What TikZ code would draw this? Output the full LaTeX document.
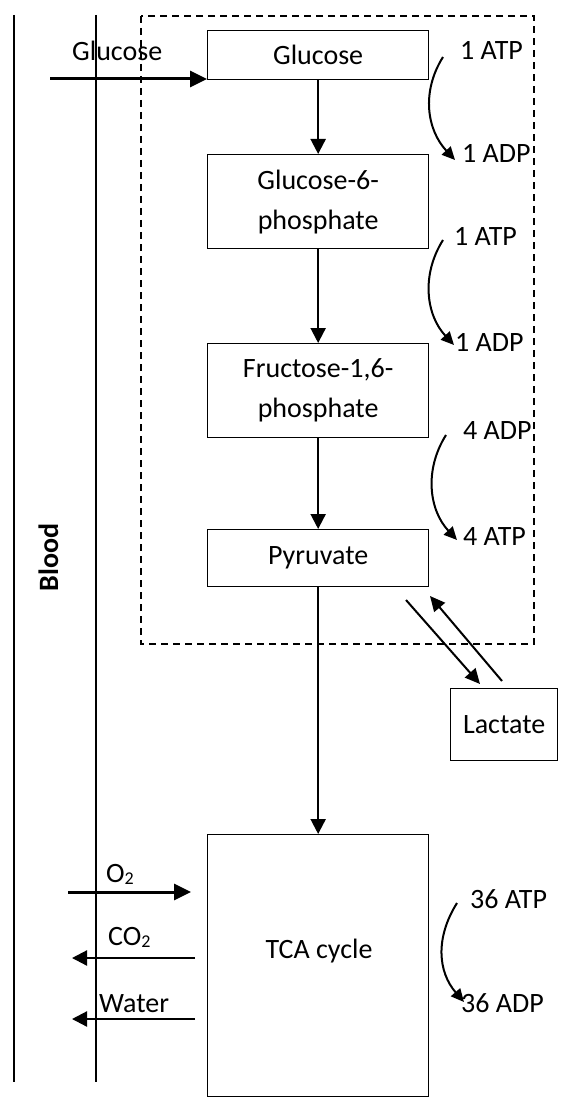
\documentclass[tikz,border=0pt]{standalone}
\usepackage{fontspec}
\setmainfont{Carlito}
\usetikzlibrary{arrows.meta,calc}
\newcommand\subtwo{\raisebox{-0.08em}{\fontsize{18}{18}\selectfont 2}}
\begin{document}
\begin{tikzpicture}[x=1pt,y=-1pt,
  font=\fontsize{28}{40}\selectfont,
  stagebox/.style={draw,line width=1.3pt,rectangle,anchor=north west,inner sep=0pt,
    minimum width=221pt,align=center},
  lbl/.style={anchor=base west,inner sep=0pt},
  arr/.style={line width=2.2pt,-{Triangle[length=15pt,width=15pt]}},
  bigarr/.style={line width=3pt,-{Triangle[length=17pt,width=16pt]}},
  curvearr/.style={line width=2pt,-{Triangle[length=13pt,width=12pt]}},
  wall/.style={line width=1.3pt}]
\useasboundingbox (0,0) rectangle (565,1099);

% membrane lines
\draw[wall] (14,15) -- (14,1082);
\draw[wall] (96,15) -- (96,1082);
\node[rotate=90,anchor=base,inner sep=0pt,font=\fontsize{28}{40}\selectfont\bfseries] (blood) at (58,557.5) {Blood};

% cytoplasm boundary
\draw[line width=1.4pt,dash pattern=on 7pt off 5pt] (141,16) rectangle (534,644);

% pathway stages
\node[stagebox,minimum height=49pt] (glc) at (207,30) {Glucose};
\node[stagebox,minimum height=94pt] (g6p) at (207,154) {Glucose-6-\\phosphate};
\node[stagebox,minimum height=94pt] (f16p) at (207,343) {Fructose-1,6-\\phosphate};
\node[stagebox,minimum height=57pt] (pyr) at (207,529) {Pyruvate};
\node[stagebox,minimum height=262pt] (tca) at (207,834) {};
\node[inner sep=0pt] (tcalbl) at (319,951) {TCA cycle};
\node[stagebox,minimum width=107pt,minimum height=72pt] (lac) at (450,688) {Lactate};

\draw[arr] (glc.south) -- (g6p.north);
\draw[arr] (g6p.south) -- (f16p.north);
\draw[arr] (f16p.south) -- (pyr.north);
\draw[arr] (pyr.south) -- (tca.north);

% glucose uptake
\node[lbl] (glclbl) at (72,61) {Glucose};
\coordinate (glcin) at (50,79);
\draw[bigarr] (glcin) -- (glcin -| glc.west);

% pyruvate <-> lactate
\coordinate (pl1) at (406,600);
\coordinate (pl2) at ($(lac.north west)+(30,-4)$);
\coordinate (lp1) at ($(lac.north west)+(52,-7)$);
\coordinate (lp2) at (430,596);
\draw[line width=2pt,-{Triangle[length=15pt,width=14pt]}] (pl1) -- (pl2);
\draw[line width=2pt,-{Triangle[length=15pt,width=14pt]}] (lp1) -- (lp2);

% energy labels
\node[lbl] (atp1) at (460,60) {1 ATP};
\node[lbl] (adp1) at (462,163) {1 ADP};
\node[lbl] (atp2) at (454,246) {1 ATP};
\node[lbl] (adp2) at (455,351) {1 ADP};
\node[lbl] (adp4) at (463,439) {4 ADP};
\node[lbl] (atp4) at (463,545) {4 ATP};
\node[lbl] (atp36) at (470,908) {36 ATP};
\node[lbl] (adp36) at (461,1012) {36 ADP};

\draw[curvearr] ($(atp1.base west)+(-17,-3)$) .. controls +(-22,35) and +(-28,-30) .. ($(adp1.base west)+(-7,-3)$);
\draw[curvearr] ($(atp2.base west)+(-11,-6)$) .. controls +(-22,35) and +(-28,-30) .. ($(adp2.base west)+(-1,-6)$);
\draw[curvearr] ($(adp4.base west)+(-17,-4)$) .. controls +(-22,35) and +(-28,-30) .. ($(atp4.base west)+(-6,-5)$);
\draw[curvearr] ($(atp36.base west)+(-13,-5)$) .. controls +(-22,35) and +(-26,-30) .. ($(adp36.base west)+(3,-10)$);

% gas and water exchange
\node[lbl] (o2lbl) at (106,882) {O\subtwo};
\node[lbl] (co2lbl) at (108,945) {CO\subtwo};
\node[lbl] (h2olbl) at (99,1012) {Water};
\coordinate (o2a) at (68,892);
\coordinate (o2b) at (191,892);
\coordinate (co2a) at (195,958);
\coordinate (co2b) at (72,958);
\coordinate (h2oa) at (195,1019);
\coordinate (h2ob) at (72,1019);
\draw[bigarr] (o2a) -- (o2b);
\draw[arr] (co2a) -- (co2b);
\draw[arr] (h2oa) -- (h2ob);
\end{tikzpicture}
\end{document}
